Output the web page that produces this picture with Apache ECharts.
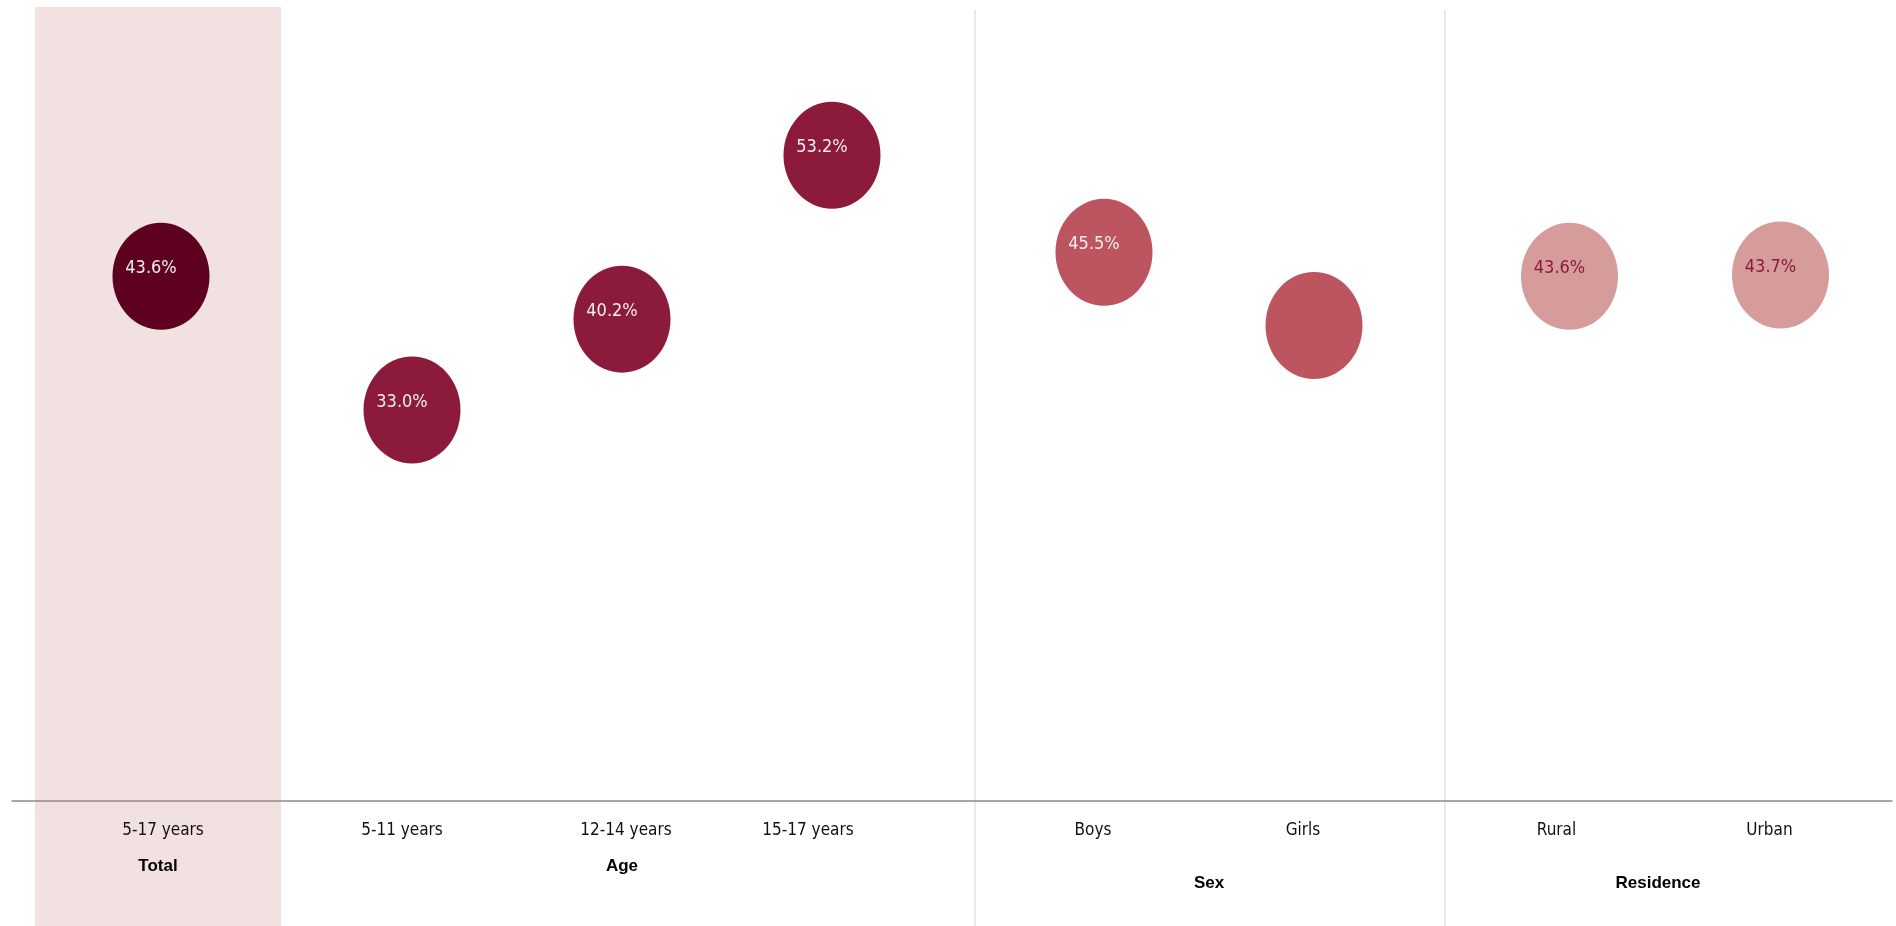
<!DOCTYPE html>
<html>
<head>
<meta charset="utf-8">
<script src="https://cdn.jsdelivr.net/npm/echarts@6/dist/echarts.min.js"></script>
<style>
html,body{margin:0;padding:0;background:#fff;}
#chart{width:1896px;height:926px;}
</style>
</head>
<body>
<div id="chart"></div>
<script>
// ---- data ----
const groupNames = ['Total', 'Age', 'Sex', 'Residence'];
const totalCategories = ['5-17 years'];
const ageCategories = ['5-11 years', '12-14 years', '15-17 years'];
const sexCategories = ['Boys', 'Girls'];
const residenceCategories = ['Rural', 'Urban'];
const totalValues = [43.6];
const ageValues = [33.0, 40.2, 53.2];
const sexValues = [45.5, 39.7];
const residenceValues = [43.6, 43.7];
const hiddenLabels = ['Girls'];

// ---- styles ----
const bubbleColors = ['#5E0020', '#8C1A3B', '#BC5560', '#D69C9C'];
const labelColors = ['#F4EEF0', '#F4EEF0', '#F4EEF0', '#8C1A3B'];
const catFont = 'DejaVu Sans Condensed';
const groupFont = 'Liberation Sans';
// horizontal nudge of tick labels relative to bubble centre (px, negative = left)
const labelShift = [[2], [-10, 4, -24], [-11, -11], [-13, -11]];

const chart = echarts.init(document.getElementById('chart'));

const gridDefs = [
  {left: 38, width: 246},
  {left: 307, width: 630},
  {left: 999, width: 420},
  {left: 1464, width: 422}
];
const catLists = [totalCategories, ageCategories, sexCategories, residenceCategories];
const valLists = [totalValues, ageValues, sexValues, residenceValues];
const nameGaps = [57, 57, 74, 74];
const namePads = [[0,6,0,0],[0,0,0,0],[0,0,0,0],[0,34,0,0]];

const grids = gridDefs.map(g => ({left: g.left, width: g.width, top: 19, bottom: 125}));
grids.push({left: 12, right: 4, top: 19, bottom: 125});

function richFor(i) {
  const r = {};
  labelShift[i].forEach((s, j) => {
    r['s' + j] = {fontFamily: catFont, fontSize: 17, color: '#111',
      padding: s < 0 ? [0, -2 * s, 0, 0] : [0, 0, 0, 2 * s]};
  });
  return r;
}

const xAxes = catLists.map((cats, i) => ({
  type: 'category', gridIndex: i, data: cats,
  axisLine: {show: false}, axisTick: {show: false},
  axisLabel: {margin: 21, fontFamily: catFont, fontSize: 17, color: '#111',
    formatter: (v, j) => '{s' + j + '|' + v + '}', rich: richFor(i)},
  name: groupNames[i], nameLocation: 'middle', nameGap: nameGaps[i],
  nameTextStyle: {fontFamily: groupFont, fontWeight: 'bold', fontSize: 17, color: '#000', padding: namePads[i]}
}));
xAxes.push({type: 'value', gridIndex: 4, min: 0, max: 1,
  axisLine: {show: true, lineStyle: {color: '#8a8a8a', width: 1.5}},
  axisTick: {show: false}, axisLabel: {show: false}, splitLine: {show: false}});

const yAxes = [0,1,2,3,4].map(i => ({type: 'value', gridIndex: i, min: 2, max: 64, show: false, splitLine: {show: false}}));

const series = valLists.map((vals, i) => ({
  type: 'scatter', xAxisIndex: i, yAxisIndex: i,
  symbol: 'circle', symbolSize: [97, 107],
  itemStyle: {color: bubbleColors[i], opacity: 1},
  label: {show: true, position: 'inside', offset: [-10, -8], color: labelColors[i],
          fontFamily: catFont, fontSize: 18, formatter: p => p.value.toFixed(1) + '%'},
  emphasis: {disabled: true},
  data: vals.map((v, j) => hiddenLabels.includes(catLists[i][j]) ? {value: v, label: {show: false}} : v)
}));

chart.setOption({
  animation: false,
  grid: grids,
  xAxis: xAxes,
  yAxis: yAxes,
  series: series,
  graphic: [
    {type: 'rect', z: -10, shape: {x: 35, y: 7, width: 246, height: 919}, style: {fill: '#F2E1E1'}},
    {type: 'line', z: -5, shape: {x1: 975, y1: 10, x2: 975, y2: 926}, style: {stroke: '#E3E3E3', lineWidth: 1.5}},
    {type: 'line', z: -5, shape: {x1: 1445, y1: 10, x2: 1445, y2: 926}, style: {stroke: '#E3E3E3', lineWidth: 1.5}}
  ]
});
</script>
</body>
</html>
